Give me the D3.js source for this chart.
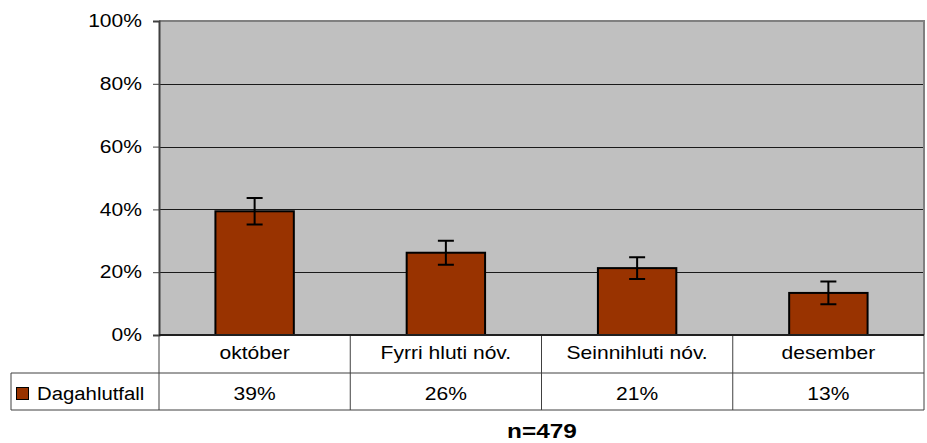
<!DOCTYPE html>
<html>
<head>
<meta charset="utf-8">
<script src="https://cdn.jsdelivr.net/npm/d3@7"></script>
<style>
  html, body { margin: 0; padding: 0; background: #fff; }
  svg { display: block; font-family: "Liberation Sans", Arial, sans-serif; }
</style>
</head>
<body>
<svg id="chart" width="927" height="443"></svg>
<script>
// Share of days per period, with error margins
const categories = ["október", "Fyrri hluti nóv.", "Seinnihluti nóv.", "desember"];
const seriesName = "Dagahlutfall";
const values = [0.394, 0.262, 0.213, 0.134];
const errors = [0.042, 0.038, 0.035, 0.036];
const yTicks = [0, 0.2, 0.4, 0.6, 0.8, 1.0];
const footnote = "n=479";

const svg = d3.select("#chart");
const plotLeft = 159, plotRight = 924, plotTop = 21, plotBottom = 335;
const row1 = 373, row2 = 410, tableLeft = 11;
const stretch = 1.17;   // wide text rendering
const fs = 18;

const x = d3.scaleBand().domain(categories).range([plotLeft, plotRight]).padding(0);
const y = d3.scaleLinear().domain([0, 1]).range([plotBottom, plotTop]);
const pct = d3.format(".0%");
const barW = x.bandwidth() * 0.41;
const barColor = "#993300";

function label(g, tx, ty, str, anchor, size, weight, sx) {
  return g.append("text")
    .attr("transform", `translate(${tx},${ty}) scale(${sx || stretch},1)`)
    .attr("text-anchor", anchor).attr("font-size", size || fs)
    .attr("font-weight", weight || "normal").attr("fill", "#000")
    .text(str);
}

// plot background
svg.append("rect")
  .attr("x", plotLeft).attr("y", plotTop)
  .attr("width", plotRight - plotLeft).attr("height", plotBottom - plotTop)
  .attr("fill", "#c0c0c0");

// gridlines
svg.append("g").selectAll("line")
  .data(yTicks.filter(t => t > 0 && t < 1))
  .join("line")
  .attr("x1", plotLeft).attr("x2", plotRight)
  .attr("y1", d => Math.round(y(d)) + 0.5).attr("y2", d => Math.round(y(d)) + 0.5)
  .attr("stroke", "#1a1a1a").attr("stroke-width", 1);

// top and right frame
svg.append("path")
  .attr("d", `M${plotLeft},${plotTop} H${plotRight} V${plotBottom}`)
  .attr("fill", "none").attr("stroke", "#808080").attr("stroke-width", 2);

// bars
svg.append("g").selectAll("rect")
  .data(values)
  .join("rect")
  .attr("x", (d, i) => x(categories[i]) + (x.bandwidth() - barW) / 2)
  .attr("y", d => y(d))
  .attr("width", barW)
  .attr("height", d => plotBottom - y(d))
  .attr("fill", barColor)
  .attr("stroke", "#000").attr("stroke-width", 2);

// error bars
const eg = svg.append("g").attr("stroke", "#000").attr("stroke-width", 2).attr("fill", "none");
values.forEach((v, i) => {
  const cx = x(categories[i]) + x.bandwidth() / 2;
  const hi = y(v + errors[i]), lo = y(v - errors[i]);
  eg.append("path").attr("d",
    `M${cx},${hi} V${lo} M${cx - 8},${hi} H${cx + 8} M${cx - 8},${lo} H${cx + 8}`);
});

// y axis
const yAxis = svg.append("g")
  .attr("transform", `translate(${plotLeft},0)`)
  .call(d3.axisLeft(y).tickValues(yTicks).tickFormat(pct).tickSize(6).tickPadding(17));
yAxis.select(".domain").attr("stroke", "#404040").attr("stroke-width", 2);
yAxis.selectAll(".tick line").attr("stroke", "#404040").attr("stroke-width", 1);
yAxis.selectAll(".tick text")
  .attr("font-size", fs).attr("fill", "#000")
  .attr("font-family", "'Liberation Sans', Arial, sans-serif")
  .attr("x", -17 / stretch)
  .attr("transform", `scale(${stretch},1)`);

// data table
const tg = svg.append("g").attr("stroke", "#404040").attr("stroke-width", 1).attr("fill", "none");
tg.append("path").attr("d",
  `M${tableLeft},${row1} H${plotRight} M${tableLeft},${row2} H${plotRight} M${tableLeft},${row1} V${row2} M${plotRight},${plotBottom} V${row2}`);
categories.forEach(c => {
  tg.append("line").attr("x1", x(c)).attr("x2", x(c)).attr("y1", plotBottom).attr("y2", row2);
});

// x axis line
svg.append("line")
  .attr("x1", plotLeft).attr("x2", plotRight).attr("y1", plotBottom).attr("y2", plotBottom)
  .attr("stroke", "#202020").attr("stroke-width", 2);

const tx = svg.append("g");
categories.forEach(c => label(tx, x(c) + x.bandwidth() / 2, 359, c, "middle"));
values.forEach((v, i) => label(tx, x(categories[i]) + x.bandwidth() / 2, 400, pct(v), "middle"));

// legend key
svg.append("rect")
  .attr("x", 16.5).attr("y", 387.5).attr("width", 12).attr("height", 12)
  .attr("fill", barColor).attr("stroke", "#000").attr("stroke-width", 1);
label(tx, 37, 400, seriesName, "start", fs, "normal", 1.13);

// footnote
label(tx, 542, 438, footnote, "middle", 20, "bold", 1.22);
</script>
</body>
</html>
